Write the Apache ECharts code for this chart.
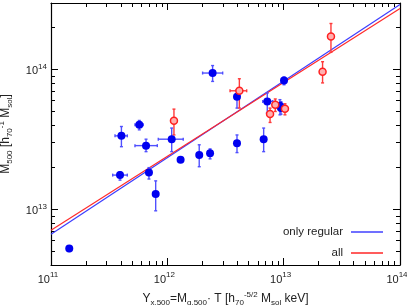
<!DOCTYPE html>
<html>
<head>
<meta charset="utf-8">
<script src="https://cdn.jsdelivr.net/npm/echarts@6/dist/echarts.min.js"></script>
<style>html,body{margin:0;padding:0;background:#fff}#c{width:407px;height:305px}</style>
</head>
<body>
<div id="c"></div>
<script>
// Regular clusters (blue): Yx, M500 and error ranges (null = no error bar)
const regX    = [1.435e11, 3.92e11, 4.03e11, 5.74e11, 6.56e11, 6.95e11, 7.94e11, 1.09e12, 1.30e12, 1.88e12, 2.33e12, 2.45e12, 3.97e12, 3.97e12, 6.73e12, 7.23e12, 9.29e12, 9.48e12, 1.007e13];
const regY    = [5.25e12, 1.76e13, 3.36e13, 4.03e13, 2.86e13, 1.84e13, 1.29e13, 3.18e13, 2.27e13, 2.45e13, 2.52e13, 9.46e13, 6.40e13, 2.98e13, 3.18e13, 5.93e13, 5.52e13, 5.31e13, 8.37e13];
const regXlo  = [null, 3.39e11, 3.55e11, 5.27e11, 5.27e11, null, null, 8.36e11, null, null, null, 2.01e12, null, null, null, 6.61e12, null, null, null];
const regXhi  = [null, 4.53e11, 4.53e11, 6.21e11, 8.20e11, null, null, 1.37e12, null, null, null, 2.99e12, null, null, null, 8.05e12, null, null, null];
const regYlo  = [5.0e12, 1.62e13, 2.81e13, 3.71e13, 2.59e13, 1.65e13, 9.77e12, 2.59e13, null, 2.02e13, 2.30e13, 8.24e13, 5.31e13, 2.55e13, 2.59e13, 4.89e13, 4.75e13, 4.8e13, 7.80e13];
const regYhi  = [5.5e12, 1.86e13, 3.92e13, 4.33e13, 3.18e13, 1.99e13, 1.60e13, 3.82e13, null, 2.90e13, 2.71e13, 1.07e14, 7.18e13, 3.41e13, 3.82e13, 6.81e13, 6.10e13, 5.9e13, 8.87e13];

// Other clusters (red)
const othX    = [1.14e12, 4.16e12, 7.64e12, 8.47e12, 1.026e13, 2.16e13, 2.55e13];
const othY    = [4.31e13, 7.06e13, 4.81e13, 5.61e13, 5.25e13, 9.68e13, 1.73e14];
const othXlo  = [null, 3.46e12, null, null, 9.8e12, null, null];
const othXhi  = [null, 4.81e12, null, null, 1.07e13, null, null];
const othYlo  = [3.41e13, 5.31e13, 4.19e13, 5.02e13, 4.75e13, 8.04e13, 1.33e14];
const othYhi  = [5.22e13, 8.61e13, 5.31e13, 6.17e13, 5.70e13, 1.14e14, 2.14e14];

// Fit lines (end points)
const fitRegX = [1e11, 1e14];
const fitRegY = [6.65e12, 2.93e14];
const fitAllX = [1e11, 1e14];
const fitAllY = [7.10e12, 2.74e14];

// Ticks
const xMajor = [1e11, 1e12, 1e13, 1e14];
const yMajor = [1e13, 1e14];
const mult = [2, 3, 4, 5, 6, 7, 8, 9];
const xMinor = [];
[1e11, 1e12, 1e13].forEach(d => mult.forEach(m => xMinor.push(m * d)));
const yMinor = [];
[1e12, 1e13, 1e14].forEach(d => mult.forEach(m => { const v = m * d; if (v >= 4e12 && v <= 3e14) yMinor.push(v); }));

const FONT = 'Liberation Sans';
const black = '#000';
const rich = {
  b: {fontSize: 11, fontFamily: FONT, color: '#222', lineHeight: 14, verticalAlign: 'bottom'},
  s: {fontSize: 8, fontFamily: FONT, color: '#222', lineHeight: 14, verticalAlign: 'top'}
};
const nameRich = {
  n: {fontSize: 12, fontFamily: FONT, color: '#222', lineHeight: 18},
  sub: {fontSize: 8, fontFamily: FONT, color: '#222', lineHeight: 18, verticalAlign: 'bottom', padding: [0, 0, 1, 0]},
  sup: {fontSize: 8, fontFamily: FONT, color: '#222', lineHeight: 18, verticalAlign: 'top', padding: [1, 0, 0, 0]}
};
const powFmt = v => '{b|10}{s|' + Math.round(Math.log10(v)) + '}';

function axis(dim, pos, major, gridIndex, extra) {
  const isX = dim === 'x';
  const a = {
    type: 'log', logBase: 10, gridIndex: gridIndex, position: pos,
    min: isX ? 1e11 : 4e12, max: isX ? 1e14 : 3e14,
    splitLine: {show: false},
    axisLine: {show: major, lineStyle: {color: black, width: 1.2}},
    axisTick: {show: true, inside: true, length: major ? 7 : 4,
               customValues: isX ? (major ? xMajor : xMinor) : (major ? yMajor : yMinor),
               lineStyle: {color: black, width: 1}},
    axisLabel: {show: false}
  };
  return Object.assign(a, extra || {});
}

const grid = {left: 51, right: 7, top: 3, bottom: 40, containLabel: false, outerBoundsMode: 'none'};

function errData(xs, ys, xlo, xhi, ylo, yhi) {
  return xs.map((x, i) => [x, ys[i], xlo[i] == null ? x : xlo[i], xhi[i] == null ? x : xhi[i], ylo[i] == null ? ys[i] : ylo[i], yhi[i] == null ? ys[i] : yhi[i]]);
}
function errRender(color) {
  return function (params, api) {
    const x = api.value(0), y = api.value(1);
    const c = api.coord([x, y]);
    const xl = api.coord([api.value(2), y]), xh = api.coord([api.value(3), y]);
    const yl = api.coord([x, api.value(4)]), yh = api.coord([x, api.value(5)]);
    const st = {stroke: color, lineWidth: 1.4};
    const cap = 1.5;
    const ch = [];
    if (Math.abs(xh[0] - xl[0]) > 1) {
      ch.push({type: 'line', shape: {x1: xl[0], y1: c[1], x2: xh[0], y2: c[1]}, style: st});
      ch.push({type: 'line', shape: {x1: xl[0], y1: c[1] - cap, x2: xl[0], y2: c[1] + cap}, style: st});
      ch.push({type: 'line', shape: {x1: xh[0], y1: c[1] - cap, x2: xh[0], y2: c[1] + cap}, style: st});
    }
    if (Math.abs(yh[1] - yl[1]) > 1) {
      ch.push({type: 'line', shape: {x1: c[0], y1: yl[1], x2: c[0], y2: yh[1]}, style: st});
      ch.push({type: 'line', shape: {x1: c[0] - cap, y1: yl[1], x2: c[0] + cap, y2: yl[1]}, style: st});
      ch.push({type: 'line', shape: {x1: c[0] - cap, y1: yh[1], x2: c[0] + cap, y2: yh[1]}, style: st});
    }
    return {type: 'group', children: ch};
  };
}

const chart = echarts.init(document.getElementById('c'), null, {renderer: 'canvas'});
chart.setOption({
  animation: false,
  backgroundColor: '#fff',
  grid: [Object.assign({}, grid), Object.assign({}, grid)],
  xAxis: [
    axis('x', 'bottom', true, 0, {
      axisLabel: {show: true, customValues: xMajor, formatter: powFmt, rich: rich, margin: 6, padding: [0, 6, 0, 0]},
      name: '{n|Y}{sub|x,500}{n|=M}{sub|g,500}{n|· T [h}{sub|70}{sup|-5/2}{n| M}{sub|sol}{n| keV]}',
      nameLocation: 'middle', nameGap: 19,
      nameTextStyle: {rich: nameRich}
    }),
    axis('x', 'top', true, 0),
    axis('x', 'bottom', false, 1),
    axis('x', 'top', false, 1)
  ],
  yAxis: [
    axis('y', 'left', true, 0, {
      axisLabel: {show: true, customValues: yMajor, formatter: powFmt, rich: rich, margin: 4},
      name: '{n|M}{sub|500}{n| [h}{sub|70}{sup|-1}{n| M}{sub|sol}{n|]}',
      nameLocation: 'middle', nameGap: 22, nameRotate: 90,
      nameTextStyle: {rich: nameRich}
    }),
    axis('y', 'right', true, 0),
    axis('y', 'left', false, 1),
    axis('y', 'right', false, 1)
  ],
  legend: {
    orient: 'vertical', right: 19, top: 220, align: 'right',
    icon: 'rect', itemWidth: 32, itemHeight: 2, itemGap: 7,
    textStyle: {fontFamily: FONT, fontSize: 11.5, color: '#222', padding: [0, 3, 0, 0], lineHeight: 14},
    data: ['only regular', 'all']
  },
  series: [
    {name: 'only regular', type: 'line', xAxisIndex: 0, yAxisIndex: 0, symbol: 'none',
     data: fitRegX.map((x, i) => [x, fitRegY[i]]), lineStyle: {color: '#3c3cff', width: 1.2}, itemStyle: {color: '#7070ff'}, z: 3},
    {name: 'all', type: 'line', xAxisIndex: 0, yAxisIndex: 0, symbol: 'none',
     data: fitAllX.map((x, i) => [x, fitAllY[i]]), lineStyle: {color: '#ff2a2a', width: 1.2}, itemStyle: {color: '#ff5c5c'}, z: 3},
    {name: 'errReg', type: 'custom', xAxisIndex: 0, yAxisIndex: 0, renderItem: errRender('#5050ff'),
     data: errData(regX, regY, regXlo, regXhi, regYlo, regYhi), z: 4, silent: true},
    {name: 'errOth', type: 'custom', xAxisIndex: 0, yAxisIndex: 0, renderItem: errRender('#ff3a3a'),
     data: errData(othX, othY, othXlo, othXhi, othYlo, othYhi), z: 4, silent: true},
    {name: 'regular', type: 'scatter', xAxisIndex: 0, yAxisIndex: 0, symbol: 'circle', symbolSize: 8,
     data: regX.map((x, i) => [x, regY[i]]), itemStyle: {color: '#0000f0', opacity: 1}, z: 5},
    {name: 'other', type: 'scatter', xAxisIndex: 0, yAxisIndex: 0, symbol: 'circle', symbolSize: 7,
     data: othX.map((x, i) => [x, othY[i]]), itemStyle: {color: '#ffb0b0', borderColor: '#ff2020', borderWidth: 1.5, opacity: 1}, z: 5}
  ]
});
</script>
</body>
</html>
